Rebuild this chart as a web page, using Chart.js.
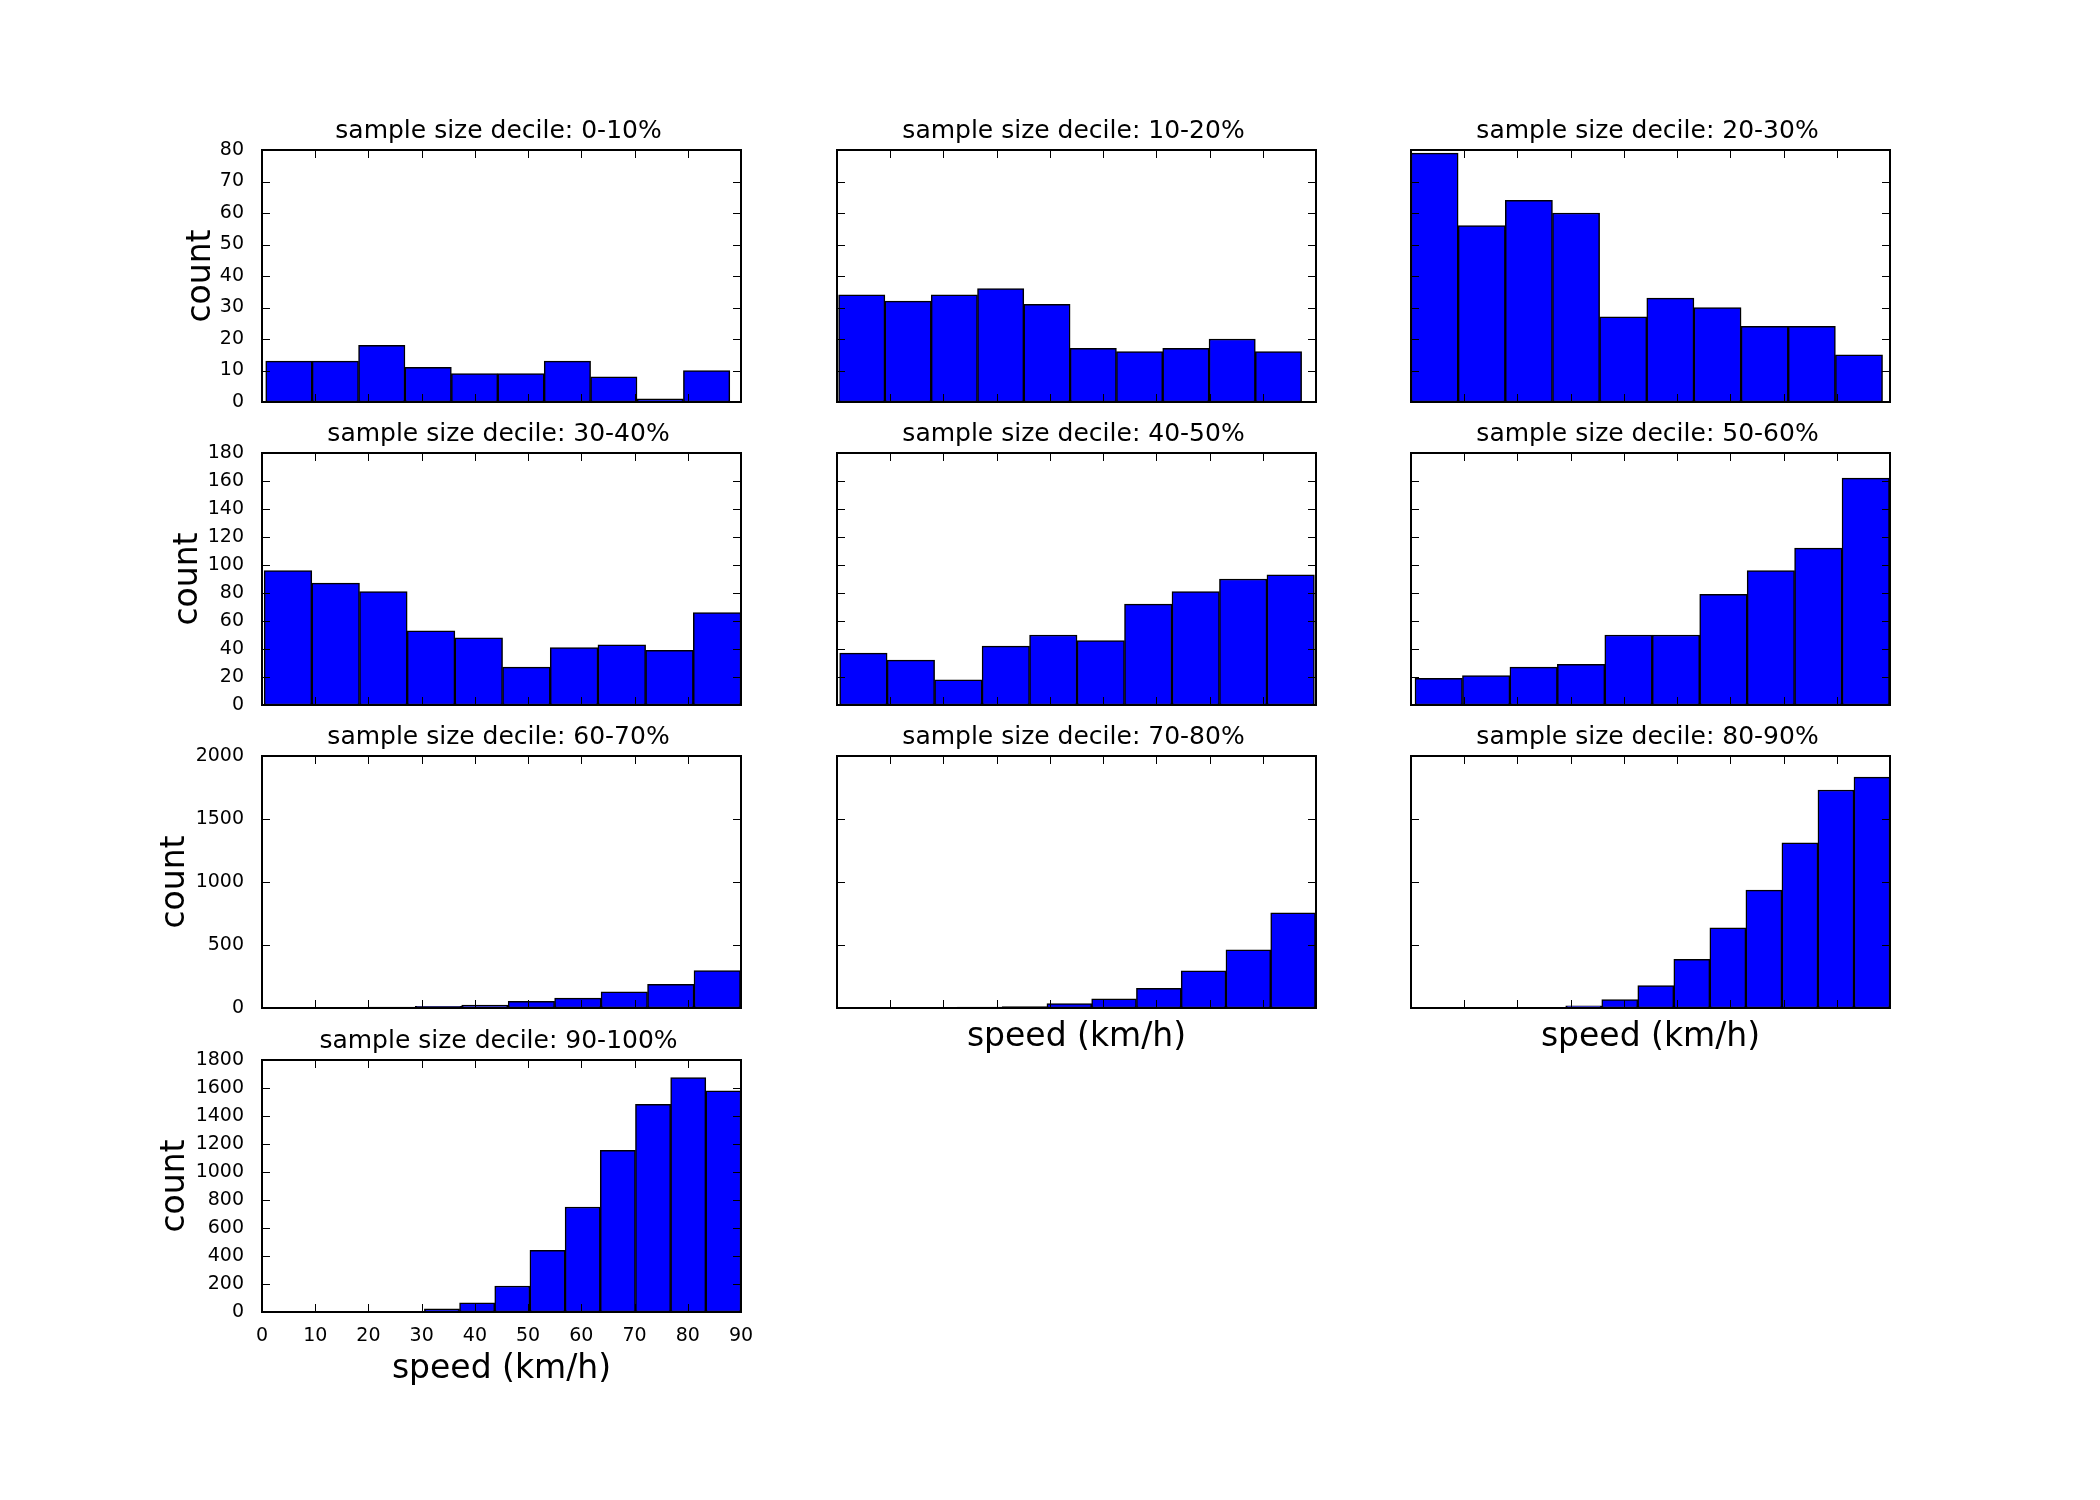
<!DOCTYPE html>
<html>
<head>
<meta charset="utf-8">
<title>speed histograms by sample size decile</title>
<script src="https://cdn.jsdelivr.net/npm/chart.js@4.4.1/dist/chart.umd.min.js"></script>
<style>
  html, body { margin: 0; padding: 0; background: #fff; }
  #fig { position: relative; width: 2100px; height: 1500px; background: #fff; }
  #fig canvas { position: absolute; }
</style>
</head>
<body>
<div id="fig"></div>
<script>
/* speed histograms, one panel per sample-size decile (10 bins each) */

const DECILES = ["0-10%", "10-20%", "20-30%", "30-40%", "40-50%",
                 "50-60%", "60-70%", "70-80%", "80-90%", "90-100%"];

// speed tick labels (km/h), shared by every panel
const SPEED_TICKS = [0, 10, 20, 30, 40, 50, 60, 70, 80, 90];

// count tick labels, one list per row of panels
const COUNT_TICKS_ROW1 = [0, 10, 20, 30, 40, 50, 60, 70, 80];
const COUNT_TICKS_ROW2 = [0, 20, 40, 60, 80, 100, 120, 140, 160, 180];
const COUNT_TICKS_ROW3 = [0, 500, 1000, 1500, 2000];
const COUNT_TICKS_ROW4 = [0, 200, 400, 600, 800, 1000, 1200, 1400, 1600, 1800];

// bin edges (km/h)
const BINS_00_10 = [0.7, 9.42, 18.14, 26.86, 35.58, 44.3, 53.02, 61.74, 70.46, 79.18, 87.9];
const BINS_10_20 = [0.3, 9.0, 17.7, 26.4, 35.1, 43.8, 52.5, 61.2, 69.9, 78.6, 87.3];
const BINS_20_30 = [0.0, 8.86, 17.72, 26.58, 35.44, 44.3, 53.16, 62.02, 70.88, 79.74, 88.6];
const BINS_30_40 = [0.4, 9.36, 18.32, 27.28, 36.24, 45.2, 54.16, 63.12, 72.08, 81.04, 90.0];
const BINS_40_50 = [0.5, 9.42, 18.34, 27.26, 36.18, 45.1, 54.02, 62.94, 71.86, 80.78, 89.7];
const BINS_50_60 = [0.75, 9.67, 18.58, 27.5, 36.41, 45.33, 54.24, 63.16, 72.07, 80.99, 89.9];
const BINS_60_70 = [2.6, 11.33, 20.06, 28.79, 37.52, 46.25, 54.98, 63.71, 72.44, 81.17, 89.9];
const BINS_70_80 = [5.8, 14.21, 22.62, 31.03, 39.44, 47.85, 56.26, 64.67, 73.08, 81.49, 89.9];
const BINS_80_90 = [22.3, 29.07, 35.84, 42.61, 49.38, 56.15, 62.92, 69.69, 76.46, 83.23, 90.0];
const BINS_90_100 = [23.9, 30.51, 37.12, 43.73, 50.34, 56.95, 63.56, 70.17, 76.78, 83.39, 90.0];

// counts per bin
const COUNT_00_10 = [13, 13, 18, 11, 9, 9, 13, 8, 1, 10];
const COUNT_10_20 = [34, 32, 34, 36, 31, 17, 16, 17, 20, 16];
const COUNT_20_30 = [79, 56, 64, 60, 27, 33, 30, 24, 24, 15];
const COUNT_30_40 = [96, 87, 81, 53, 48, 27, 41, 43, 39, 66];
const COUNT_40_50 = [37, 32, 18, 42, 50, 46, 72, 81, 90, 93];
const COUNT_50_60 = [19, 21, 27, 29, 50, 50, 79, 96, 112, 162];
const COUNT_60_70 = [2, 5, 8, 14, 24, 53, 79, 129, 187, 296];
const COUNT_70_80 = [1, 3, 7, 12, 36, 72, 157, 295, 462, 755];
const COUNT_80_90 = [5, 18, 66, 178, 387, 637, 935, 1310, 1730, 1832];
const COUNT_90_100 = [5, 22, 65, 186, 440, 750, 1155, 1483, 1675, 1580];

const PANEL_BINS = [BINS_00_10, BINS_10_20, BINS_20_30, BINS_30_40, BINS_40_50,
                    BINS_50_60, BINS_60_70, BINS_70_80, BINS_80_90, BINS_90_100];
const PANEL_COUNTS = [COUNT_00_10, COUNT_10_20, COUNT_20_30, COUNT_30_40, COUNT_40_50,
                      COUNT_50_60, COUNT_60_70, COUNT_70_80, COUNT_80_90, COUNT_90_100];
const ROW_TICKS = [COUNT_TICKS_ROW1, COUNT_TICKS_ROW2, COUNT_TICKS_ROW3, COUNT_TICKS_ROW4];

// ---- layout (page pixels) ----
const AX_LEFT = [262, 837, 1411];
const AX_TOP = [150, 453, 756, 1060];
const AX_W = 479, AX_H = 252;
const PAD = { l: 150, r: 22, t: 60, b: 90 };
const YLABEL_PAD = [70, 57, 44, 44];
const FONT = "'DejaVu Sans', sans-serif";

Chart.defaults.font.family = FONT;
Chart.defaults.color = "#000";

// classic matplotlib look: inward ticks on all four sides, black frame, title above
const panelFrame = {
  id: "panelFrame",
  afterDraw(chart, args, opts) {
    const { ctx, chartArea: a, scales: { x, y } } = chart;
    const len = 8;
    ctx.save();
    ctx.strokeStyle = "#000";
    ctx.lineWidth = 1;
    ctx.beginPath();
    x.ticks.forEach((t) => {
      const px = Math.round(x.getPixelForValue(t.value)) + 0.5;
      ctx.moveTo(px, a.bottom); ctx.lineTo(px, a.bottom - len);
      ctx.moveTo(px, a.top); ctx.lineTo(px, a.top + len);
    });
    y.ticks.forEach((t) => {
      const py = Math.round(y.getPixelForValue(t.value)) + 0.5;
      ctx.moveTo(a.left, py); ctx.lineTo(a.left + len, py);
      ctx.moveTo(a.right, py); ctx.lineTo(a.right - len, py);
    });
    ctx.stroke();
    ctx.lineWidth = 2;
    ctx.strokeRect(a.left, a.top, a.right - a.left, a.bottom - a.top);
    ctx.fillStyle = "#000";
    ctx.font = "25px " + FONT;
    ctx.textAlign = "center";
    ctx.textBaseline = "alphabetic";
    ctx.fillText(opts.title, (a.left + a.right) / 2 - 3, a.top - 12);
    ctx.restore();
  },
};

function drawPanel(k) {
  const row = Math.floor(k / 3), col = k % 3;
  const edges = PANEL_BINS[k];
  const yTicks = ROW_TICKS[row];
  const showXTitle = row === 3 || (row === 2 && col > 0);

  const canvas = document.createElement("canvas");
  canvas.width = AX_W + PAD.l + PAD.r;
  canvas.height = AX_H + PAD.t + PAD.b;
  canvas.style.left = (AX_LEFT[col] - PAD.l) + "px";
  canvas.style.top = (AX_TOP[row] - PAD.t) + "px";
  document.getElementById("fig").appendChild(canvas);

  new Chart(canvas, {
    type: "bar",
    data: {
      datasets: [
        {
          data: PANEL_COUNTS[k].map((c, i) => ({ x: (edges[i] + edges[i + 1]) / 2, y: c })),
          backgroundColor: "#0000ff",
          borderColor: "#000",
          borderWidth: 1.5,
          borderSkipped: false,
          categoryPercentage: 1,
          barPercentage: 1,
        },
      ],
    },
    options: {
      responsive: false,
      animation: false,
      events: [],
      layout: { padding: { top: PAD.t, right: PAD.r, left: 0, bottom: 0 } },
      plugins: {
        legend: { display: false },
        tooltip: { enabled: false },
        panelFrame: { title: "sample size decile: " + DECILES[k] },
      },
      scales: {
        x: {
          type: "linear",
          min: 0,
          max: 90,
          offset: false,
          grid: { display: false },
          border: { display: false },
          afterBuildTicks: (s) => { s.ticks = SPEED_TICKS.map((v) => ({ value: v })); },
          afterFit: (s) => { s.height = PAD.b; },
          ticks: {
            display: row === 3,
            padding: 5,
            maxRotation: 0,
            autoSkip: false,
            callback: (v) => String(v),
            font: { size: 19 },
          },
          title: {
            display: showXTitle,
            text: "speed (km/h)",
            font: { size: 33, lineHeight: 1.2 },
            padding: { top: 0, bottom: row === 3 ? 12.5 : 41 },
          },
        },
        y: {
          min: 0,
          max: yTicks[yTicks.length - 1],
          grid: { display: false },
          border: { display: false },
          afterBuildTicks: (s) => { s.ticks = yTicks.map((v) => ({ value: v })); },
          afterFit: (s) => { s.width = PAD.l; },
          ticks: {
            display: col === 0,
            padding: 10,
            autoSkip: false,
            callback: (v) => String(v),
            font: { size: 19 },
          },
          title: {
            display: col === 0,
            text: "count",
            font: { size: 33, lineHeight: 1.2 },
            padding: { top: YLABEL_PAD[row], bottom: 0 },
          },
        },
      },
    },
    plugins: [panelFrame],
  });
}

DECILES.forEach((d, k) => drawPanel(k));
</script>
</body>
</html>
